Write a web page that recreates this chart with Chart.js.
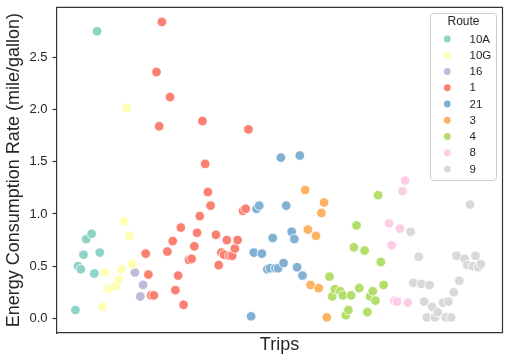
<!DOCTYPE html>
<html>
<head>
<meta charset="utf-8">
<script src="https://cdn.jsdelivr.net/npm/chart.js@4.4.0/dist/chart.umd.min.js"></script>
<style>
    html, body { margin: 0; padding: 0; background: #fff; }
    #wrap { width: 509px; height: 362px; }
</style>
</head>
<body>
<div id="wrap"><canvas id="my-chart"></canvas></div>
<script>
// * Energy consumption rate per trip, one colour per route

const routes = ['10A', '10G', '16', '1', '21', '3', '4', '8', '9']
const routeColors = ['#8dd3c7', '#ffffb3', '#bebada', '#fb8072', '#80b1d3', '#fdb462', '#b3de69', '#fccde5', '#d9d9d9']
const yTicks = [0, 0.5, 1.0, 1.5, 2.0, 2.5]

// trip index / rate (mile/gallon) for every route
const trips10A = [0, 1, 2, 3, 4, 6, 7, 8, 9]
const rate10A = [0.08, 0.50, 0.47, 0.61, 0.76, 0.81, 0.43, 2.75, 0.63]

const trips10G = [10, 11, 12, 13, 15, 16, 17, 18, 19, 20, 21]
const rate10G = [0.11, 0.44, 0.28, 0.29, 0.31, 0.37, 0.47, 0.93, 2.02, 0.79, 0.52]

const trips16 = [22, 24, 25]
const rate16 = [0.44, 0.21, 0.32]

const trips1 = [26, 27, 28, 29, 30, 31, 32, 34, 35, 36, 37, 38, 39, 40, 42, 43, 44, 45,
    46, 47, 48, 49, 50, 52, 53, 54, 55, 56, 57, 58, 59, 60, 62, 63, 64]
const rate1 = [0.62, 0.42, 0.22, 0.22, 2.36, 1.84, 2.84, 0.64, 2.12, 0.74, 0.27, 0.41, 0.87, 0.13, 0.56, 0.57, 0.69, 0.82,
    0.98, 1.89, 1.48, 1.21, 1.08, 0.80, 0.51, 0.63, 0.61, 0.75, 0.60, 0.60, 0.67, 0.75, 1.03, 1.05, 1.81]

const trips21 = [65, 66, 67, 68, 69, 71, 72, 73, 74, 75, 76, 77, 78, 80, 81, 82, 83, 84]
const rate21 = [0.02, 0.63, 1.05, 1.08, 0.62, 0.47, 0.48, 0.77, 0.48, 0.48, 1.54, 0.53, 1.08, 0.83, 0.76, 0.49, 1.56, 0.41]

const trips3 = [85, 86, 87, 89, 90, 91, 92, 93]
const rate3 = [1.23, 0.85, 0.32, 0.79, 0.29, 1.01, 1.11, 0.01]

const trips4 = [94, 95, 96, 98, 99, 100, 101, 102, 103, 104, 105, 107, 108, 109, 110, 111, 112, 113, 114]
const rate4 = [0.40, 0.21, 0.28, 0.26, 0.22, 0.03, 0.08, 0.22, 0.68, 0.89, 0.29, 0.65, 0.06, 0.21, 0.26, 0.17, 1.18, 0.54, 0.32]

const trips8 = [116, 117, 118, 119, 120, 121, 122, 123]
const rate8 = [0.91, 0.70, 0.17, 0.16, 0.86, 1.22, 1.32, 0.15]

const trips9 = [124, 125, 127, 128, 129, 130, 131, 132, 133, 134, 136, 137, 138, 139, 140, 141, 142, 144,
    145, 146, 147, 148, 149, 150]
const rate9 = [0.83, 0.34, 0.59, 0.33, 0.16, 0.01, 0.32, 0.11, 0.01, 0.06, 0.15, 0.01, 0.16, 0.01, 0.25, 0.60, 0.36, 0.57,
    0.51, 1.09, 0.50, 0.60, 0.49, 0.52]

const tripsByRoute = [trips10A, trips10G, trips16, trips1, trips21, trips3, trips4, trips8, trips9]
const ratesByRoute = [rate10A, rate10G, rate16, rate1, rate21, rate3, rate4, rate8, rate9]

const fontFamily = "'Liberation Sans', Arial, sans-serif"
const spineColor = '#333333'
const ctx = document.getElementById('my-chart')

// build one scatter dataset per route
const datasets = routes.map((route, i) => ({
    label: route,
    data: tripsByRoute[i].map((t, j) => ({ x: t, y: ratesByRoute[i][j] })),
    backgroundColor: routeColors[i],
    borderColor: '#ffffff',
    borderWidth: 0.8,
    pointRadius: 4.8,
    pointHoverRadius: 4.8
}))

// top and right spines, like the seaborn frame
const framePlugin = {
    id: 'frame',
    afterDraw(chart) {
        const { ctx, chartArea } = chart
        ctx.save()
        ctx.strokeStyle = spineColor
        ctx.lineWidth = 1.2
        ctx.beginPath()
        ctx.moveTo(chartArea.left, chartArea.top)
        ctx.lineTo(chartArea.right, chartArea.top)
        ctx.lineTo(chartArea.right, chartArea.bottom)
        ctx.stroke()
        ctx.restore()
    }
}

// legend box in the top-right corner, with the "Route" title
const legendPlugin = {
    id: 'routeLegend',
    afterDraw(chart) {
        const { ctx } = chart
        const boxX = 430.5, boxY = 13.5, boxW = 66, boxH = 167
        ctx.save()
        ctx.fillStyle = 'rgba(255,255,255,0.8)'
        ctx.strokeStyle = '#cccccc'
        ctx.lineWidth = 1
        ctx.beginPath()
        ctx.roundRect(boxX, boxY, boxW, boxH, 3)
        ctx.fill()
        ctx.stroke()

        ctx.fillStyle = '#262626'
        ctx.textBaseline = 'middle'
        ctx.textAlign = 'center'
        ctx.font = '12px ' + fontFamily
        ctx.fillText('Route', boxX + boxW / 2, 22)

        ctx.textAlign = 'left'
        ctx.font = '11.5px ' + fontFamily
        chart.data.datasets.forEach((ds, i) => {
            const y = 39 + i * 16.25
            ctx.beginPath()
            ctx.arc(447.3, y, 3.4, 0, Math.PI * 2)
            ctx.fillStyle = ds.backgroundColor
            ctx.fill()
            ctx.fillStyle = '#262626'
            ctx.fillText(ds.label, 469.5, y + 0.5)
        })
        ctx.restore()
    }
}

new Chart(ctx, {
    type: 'scatter',
    data: { datasets: datasets },
    options: {
        responsive: true,
        maintainAspectRatio: false,
        animation: false,
        layout: { padding: { top: 7.3, right: 6.5, left: 0, bottom: 0 } },
        plugins: {
            legend: { display: false },
            tooltip: { enabled: false }
        },
        scales: {
            x: {
                type: 'linear',
                min: -7,
                max: 158,
                ticks: { display: false },
                grid: { display: false },
                border: { display: true, color: spineColor, width: 1.2 },
                title: {
                    display: true,
                    text: 'Trips',
                    color: '#262626',
                    font: { family: fontFamily, size: 18 },
                    padding: { top: 0, bottom: 6 }
                },
                afterFit(scale) {
                    scale.height = 29
                }
            },
            y: {
                type: 'linear',
                min: -0.14,
                max: 2.98,
                afterBuildTicks(scale) {
                    scale.ticks = yTicks.map((v) => ({ value: v }))
                },
                ticks: {
                    color: '#262626',
                    padding: 5,
                    font: { family: fontFamily, size: 13 },
                    callback: (v) => v.toFixed(1)
                },
                grid: {
                    display: true,
                    drawOnChartArea: false,
                    drawTicks: true,
                    tickLength: 4,
                    color: spineColor,
                    tickWidth: 1.2
                },
                border: { display: true, color: spineColor, width: 1.2 },
                title: {
                    display: true,
                    text: 'Energy Consumption Rate (mile/gallon)',
                    color: '#262626',
                    font: { family: fontFamily, size: 18 },
                    padding: { top: 3, bottom: 0 }
                },
                afterFit(scale) {
                    scale.width = 56.5
                    // no extra room for the top tick label
                    scale.paddingTop = 0
                    scale.paddingBottom = 0
                }
            }
        }
    },
    plugins: [framePlugin, legendPlugin]
})
</script>
</body>
</html>
